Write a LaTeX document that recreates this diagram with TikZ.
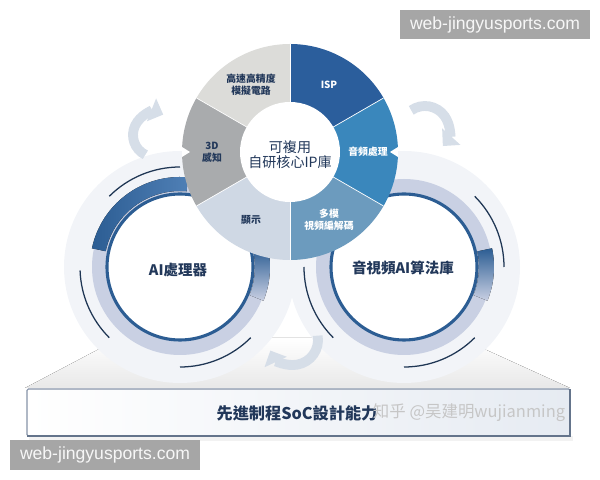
\documentclass[tikz,border=0pt]{standalone}
\usepackage{fontspec}
\newfontfamily\cjk{Noto Sans CJK TC}
\newfontfamily\cjksc{Noto Sans CJK SC}
\newfontfamily\wmfont{Liberation Sans}
\usetikzlibrary{arrows.meta,shapes,calc}
\definecolor{segisp}{HTML}{2B5E9C}
\definecolor{segaudio}{HTML}{3A87BC}
\definecolor{segvideo}{HTML}{6C9BBE}
\definecolor{segdisp}{HTML}{CFD8E4}
\definecolor{segthreed}{HTML}{A9ABAD}
\definecolor{segmix}{HTML}{DCDCD9}
\definecolor{ringdark}{HTML}{2C5D93}
\definecolor{ringmid}{HTML}{4F7FB5}
\definecolor{ringband}{HTML}{C9D0E3}
\definecolor{halo}{HTML}{F2F4F8}
\definecolor{navy}{HTML}{22385A}
\definecolor{arcline}{HTML}{1F3654}
\definecolor{arrowpale}{HTML}{D6DEE8}
\definecolor{boxedge}{HTML}{8693A8}
\definecolor{boxfill}{HTML}{E6EBF2}
\definecolor{wmgray}{HTML}{A6A6A6}
\tikzstyle{seglabel}=[font=\cjk\bfseries\fontsize{7}{8.5}\selectfont, align=center, inner sep=0pt]
\tikzstyle{ringlabel}=[font=\cjk\bfseries\fontsize{10.3}{12}\selectfont, text=navy]
\tikzstyle{thinarc}=[draw=arcline, line width=0.9pt]
\tikzstyle{cyclearrow}=[draw=arrowpale, line width=7pt, -{Triangle[width=17pt,length=9pt]}]
\tikzstyle{wmbox}=[fill=wmgray, text=white!94!gray, font=\wmfont\fontsize{12.5}{13}\selectfont, minimum width=4.75cm, minimum height=0.73cm, inner sep=0pt]

\begin{document}
\begin{tikzpicture}[x=0.025cm, y=0.025cm]
    \useasboundingbox (0,0) rectangle (600,480);

    \coordinate (wheel) at (290,328);
    \coordinate (ringL) at (180,213);
    \coordinate (ringR) at (404,213);

    % base
    \fill[top color=white, bottom color=black!9] (25,92) -- (120,142) -- (460,142) -- (570,92) -- cycle;

    \foreach \c in {ringL, ringR} {
        \fill[halo] (\c) circle[radius=116];
        \fill[ringband] (\c) circle[radius=88];
        \fill[white] (\c) circle[radius=74];
        \draw[ringdark, line width=2.2pt] (\c) circle[radius=73];
    }

    % dark parts of the bands
    \fill[left color=ringdark, right color=ringmid] ($(ringL)+(85:90)$) arc[start angle=85, end angle=168, radius=90]
        -- ($(ringL)+(168:76)$) arc[start angle=168, end angle=85, radius=76] -- cycle;
    \foreach \c in {ringL, ringR}
        \fill[top color=ringdark, bottom color=ringband] ($(\c)+(-22:75)$) arc[start angle=-22, end angle=12, radius=75]
            -- ($(\c)+(12:90)$) arc[start angle=12, end angle=-22, radius=90] -- cycle;

    \foreach \c/\a/\b in {ringL/90/135, ringL/182/225, ringL/270/315, ringR/0/45, ringR/180/225, ringR/270/315}
        \draw[thinarc] ($(\c)+(\a:100)$) arc[start angle=\a, end angle=\b, radius=100];

    \node[ringlabel] (aiproc) at (178,210) {AI處理器};
    \node[ringlabel] (avalgo) at (403,212) {音視頻AI算法庫};

    % cycle arrows
    \coordinate (spinL) at (155,345);
    \coordinate (spinR) at (425,350);
    \coordinate (spinB) at (293,140);
    \draw[cyclearrow] ($(spinL)+(244:22)$) arc[start angle=244, end angle=68, radius=22];
    \draw[cyclearrow] ($(spinR)+(125:24)$) arc[start angle=125, end angle=-42, radius=24];
    \draw[cyclearrow] ($(spinB)+(10:25)$) arc[start angle=10, end angle=-155, radius=25];

    % wheel
    \foreach \a/\col in {30/segisp, 90/segmix, 150/segthreed, 210/segdisp, 270/segvideo, 330/segaudio}
        \fill[\col] (wheel) -- ++(\a:108) arc[start angle=\a, end angle=\a+60, radius=108] -- cycle;
    \foreach \a in {30,90,...,330}
        \draw[white, line width=0.5pt] (wheel) -- ++(\a:108);
    \fill[white] (wheel) circle[radius=50];
    \fill[white] (182,333) -- (190,328) -- (182,323) -- cycle;
    \fill[white] (398,333) -- (390,328) -- (398,323) -- cycle;

    \node[font=\cjk\fontsize{10}{10.6}\selectfont, text=navy, align=center] (core) at (290,325) {可複用\\自研核心IP庫};

    \foreach \a/\txt/\col/\name in {60/ISP/white/isp, 0/音頻處理/white/audio, -60/{多模\\視頻編解碼}/white/codec,
                                   -120/顯示/navy/disp, 180/{3D\\感知}/navy/sense, 120/{高速高精度\\模擬電路}/navy/analog}
        \node[seglabel, text=\col] (\name) at ($(wheel)+(\a:78)$) {\txt};

    % platform box
    \fill[black!5] (29,44) rectangle (573,39);
    \draw[boxedge, line width=0.8pt, left color=white, right color=boxfill, rounded corners=1pt] (27,44) rectangle (570,91);
    \draw[navy!70, line width=1pt] (27,44) -- (570,44) -- (570,91);
    \node[font=\cjk\bfseries\fontsize{11.5}{12}\selectfont, text=navy] (process) at (297,67) {先進制程SoC設計能力};
    \node[anchor=west, font=\cjksc\fontsize{11.7}{12}\selectfont, text=gray!45] (zhihu) at (368,67) {知乎 @吴建明wujianming};

    \node[wmbox] (wmtop) at (495,455.5) {web-jingyusports.com};
    \node[wmbox] (wmbottom) at (105,25) {web-jingyusports.com};

\end{tikzpicture}
\end{document}
